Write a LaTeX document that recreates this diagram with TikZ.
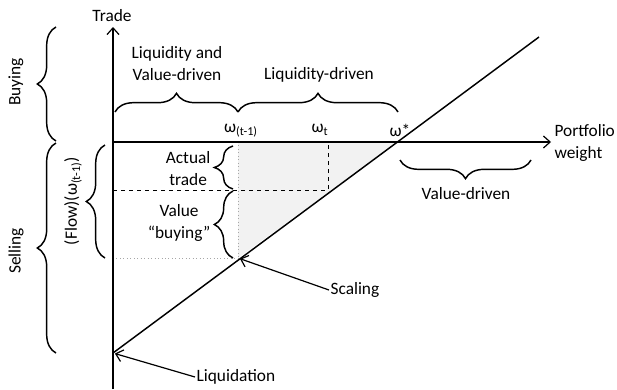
\documentclass[tikz,border=0pt]{standalone}
\usepackage{fontspec}
\setmainfont{Carlito}
\usetikzlibrary{arrows.meta,positioning,decorations.pathreplacing}

\begin{document}
\begin{tikzpicture}[x=0.75pt, y=-0.75pt,
    axis/.style={line width=0.9pt, -{Straight Barb[length=5pt, width=9pt]}},
    pointer/.style={line width=0.9pt, -{Straight Barb[length=5pt, width=9pt]}, shorten >=1.5pt},
    brace/.style={decorate, decoration={brace, amplitude=14pt}, line width=1.1pt},
    lbl/.style={font=\fontsize{13}{16.5}\selectfont, align=center, inner sep=1pt},
    guide/.style={gray!70, dotted, line width=0.6pt},
  ]
  \useasboundingbox (0,0) rectangle (617,389);

  % Key points
  \coordinate (O) at (113,142);
  \coordinate (ybot) at (113,389);
  \coordinate (ytop) at (113,27);
  \coordinate (xend) at (551,142);
  \coordinate (liq) at (113,353);
  \coordinate (lend) at (539,37);
  \coordinate (wp) at (238,142);
  \coordinate (wpl) at (238,258);
  \coordinate (wt) at (328,142);
  \coordinate (wtb) at (328,190);
  \coordinate (wtl) at (113,190);
  \coordinate (ws) at (398,142);

  % Shaded triangle
  \fill[gray!10] (wp) -- (ws) -- (wpl) -- cycle;

  % Guides
  \draw[guide] (wp) -- (wpl);
  \draw[guide] (O |- wpl) -- (wpl);
  \draw[dashed, line width=0.6pt] (wtl) -- (wtb) -- (wt);

  % Axes and line
  \draw[axis] (ybot) -- (ytop);
  \draw[axis] (O) -- (xend);
  \draw[line width=1.1pt] (liq) -- (lend);

  % Axis labels
  \node[lbl] (trade) at (112,16) {Trade};
  \node[lbl, anchor=west, align=left] (pw) at (553,143) {Portfolio\\weight};
  \node[lbl] (wprev) at (241,131) {ω\textsubscript{(t-1)}};
  \node[lbl] (wnow) at (320,130) {ω\textsubscript{t}};
  \node[lbl] (wstar) at (400,130) {ω*};

  % Braces along the weight axis
  \draw[brace] (115,112) -- (wp |- 0,112);
  \draw[brace] (wp |- 0,112) -- (ws |- 0,112);
  \draw[brace] (531,160) -- (400,160);
  \node[lbl] (lvd) at (177,64) {Liquidity and\\Value-driven};
  \node[lbl] (ld) at (319,75) {Liquidity-driven};
  \node[lbl] (vd) at (466,194) {Value-driven};

  % Braces along the trade axis
  \draw[brace] (56,141) -- (56,27);
  \draw[brace] (56,353) -- (56,143);
  \draw[brace] (105,258) -- (105,145);
  \draw[brace] (233,189) -- (233,146);
  \draw[brace] (233,258) -- (233,191);
  \node[lbl, rotate=90] (buy) at (16,82) {Buying};
  \node[lbl, rotate=90] (sell) at (16,251) {Selling};
  \node[lbl, rotate=90] (flow) at (73,201) {(Flow)(ω\textsubscript{(t-1)})};
  \node[lbl, anchor=east] (act) at (212,169) {Actual\\trade};
  \node[lbl, anchor=east] (valb) at (212,223) {Value\\“buying”};

  % Pointers
  \node[lbl, anchor=west] (scal) at (329,290) {Scaling};
  \node[lbl, anchor=west] (liqd) at (195,377) {Liquidation};
  \draw[pointer] (scal.west) -- (wpl);
  \draw[pointer] (liqd.west) -- (liq);
\end{tikzpicture}
\end{document}
